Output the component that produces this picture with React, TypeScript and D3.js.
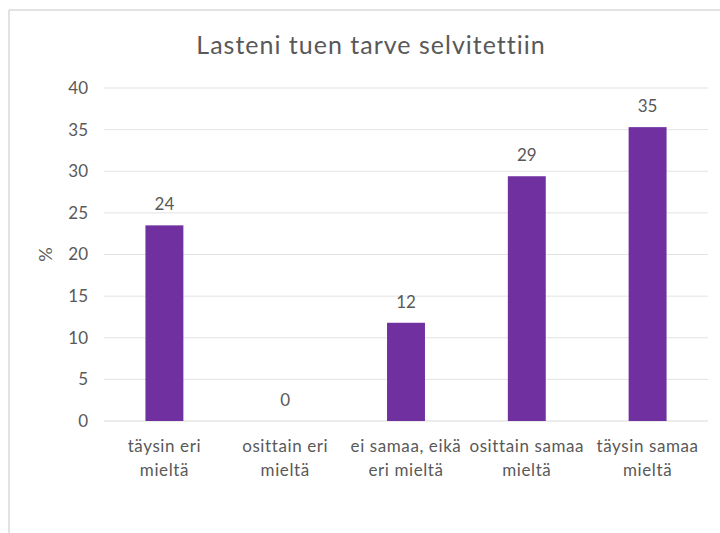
import React from "react";
import * as d3 from "d3";

const categories: string[][] = [
  ["täysin eri", "mieltä"],
  ["osittain eri", "mieltä"],
  ["ei samaa, eikä", "eri mieltä"],
  ["osittain samaa", "mieltä"],
  ["täysin samaa", "mieltä"],
];
const values: number[] = [23.5, 0, 11.8, 29.4, 35.3];
const yTicks: number[] = [0, 5, 10, 15, 20, 25, 30, 35, 40];
const title = "Lasteni tuen tarve selvitettiin";
const yLabel = "%";

const W = 720;
const H = 533;
const FONT = "Lato, 'Open Sans', sans-serif";
const TEXT = "#595959";
const BAR = "#7030A0";

export default function App() {
  const plotLeft = 104;
  const plotRight = 708;
  const plotTop = 88;
  const plotBottom = 421;
  const x = d3
    .scaleBand<number>()
    .domain(d3.range(categories.length))
    .range([plotLeft, plotRight])
    .paddingInner(0.686)
    .paddingOuter(0.343);
  const y = d3.scaleLinear().domain([0, 40]).range([plotBottom, plotTop]);

  return (
    <svg
      width={W}
      height={H}
      style={{
        position: "absolute",
        left: 0,
        top: 0,
        background: "#fff",
        fontVariantLigatures: "none",
      }}
      fontFamily={FONT}
    >
      <rect x={0} y={0} width={W} height={H} fill="#fff" />
      <line x1={9} y1={10} x2={9} y2={H} stroke="#d9d9d9" strokeWidth={1.5} />
      <line x1={9} y1={10} x2={W} y2={10} stroke="#d9d9d9" strokeWidth={1.5} />
      <text
        x={371}
        y={54}
        textAnchor="middle"
        fontSize={25}
        letterSpacing={1}
        fill={TEXT}
      >
        {title}
      </text>
      {yTicks.map((t) => (
        <g key={t}>
          <line
            x1={plotLeft}
            x2={plotRight}
            y1={y(t)}
            y2={y(t)}
            stroke={t === 0 ? "#d9d9d9" : "#e3e3e3"}
            strokeWidth={1}
          />
          <text
            x={88}
            y={y(t)}
            dy="0.35em"
            textAnchor="end"
            fontSize={17}
            fill={TEXT}
          >
            {t}
          </text>
        </g>
      ))}
      <text
        transform={`translate(46,${(plotTop + plotBottom) / 2}) rotate(-90)`}
        textAnchor="middle"
        dy="0.35em"
        fontSize={18}
        fill={TEXT}
      >
        {yLabel}
      </text>
      {values.map((v, i) => {
        const bx = x(i)!;
        const bw = x.bandwidth();
        return (
          <g key={i}>
            {v > 0 && (
              <rect x={bx} y={y(v)} width={bw} height={y(0) - y(v)} fill={BAR} />
            )}
            <text
              x={bx + bw / 2}
              y={y(v) - 15}
              textAnchor="middle"
              fontSize={17}
              fill={TEXT}
            >
              {d3.format(".0f")(v)}
            </text>
            {categories[i].map((line, j) => (
              <text
                key={j}
                x={bx + bw / 2}
                y={452 + j * 24}
                textAnchor="middle"
                fontSize={17}
                letterSpacing={0.6}
                fill={TEXT}
              >
                {line}
              </text>
            ))}
          </g>
        );
      })}
    </svg>
  );
}
